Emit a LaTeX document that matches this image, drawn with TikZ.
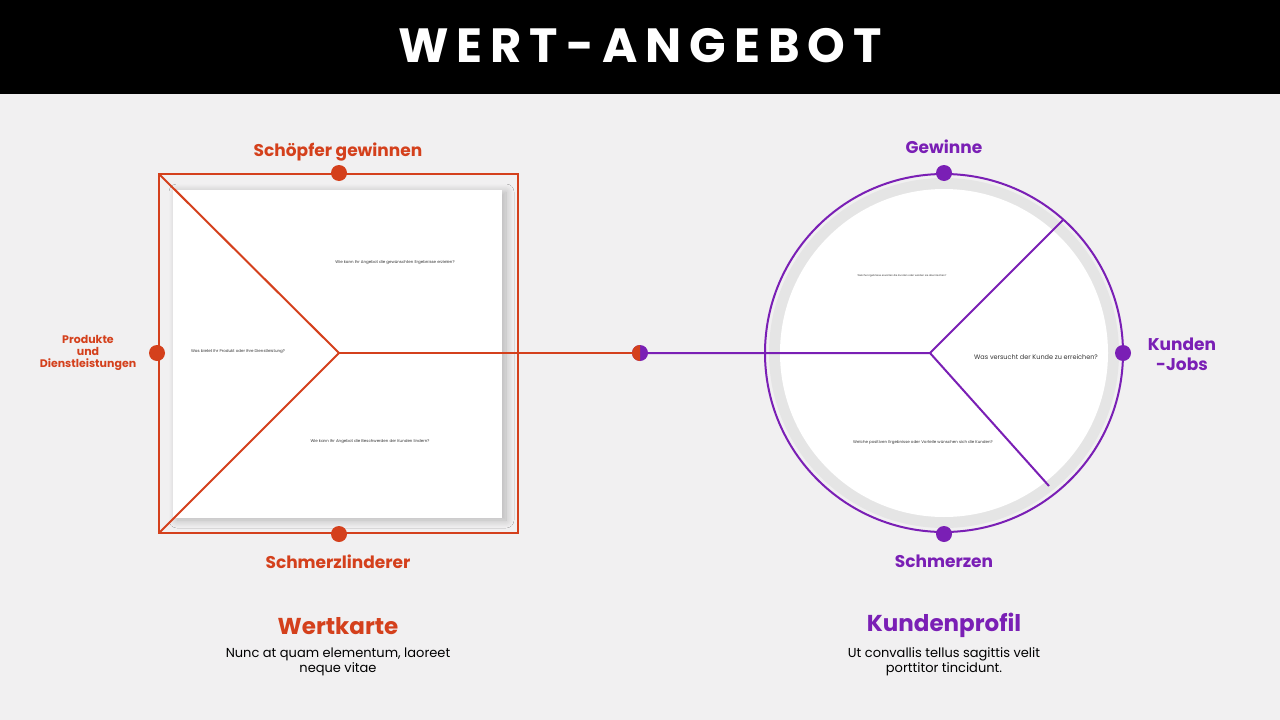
\documentclass[tikz,border=0pt]{standalone}
\usepackage{fontspec}
\setmainfont{Poppins}
\usetikzlibrary{shadows.blur}
\definecolor{org}{HTML}{D4401C}
\definecolor{pur}{HTML}{7A1FB5}
\definecolor{bg}{HTML}{F1F0F1}
\tikzset{x=1pt,y=-1pt,
 dot/.style={circle,inner sep=0pt,minimum size=16pt},
 tiny/.style={font=\fontsize{4}{5}\selectfont,text=black!80},
 lbl/.style={font=\fontsize{17}{20}\selectfont\bfseries}}
\begin{document}
\begin{tikzpicture}
\useasboundingbox (0,0) rectangle (1280,720);
\fill[bg] (0,0) rectangle (1280,720);
\fill[black] (0,0) rectangle (1280,94);
\node[text=white,font=\fontsize{48}{56}\selectfont\bfseries] (title) at (640,46) {W\,E\,R\,T\,-\,A\,N\,G\,E\,B\,O\,T};
% left
\fill[white,blur shadow={shadow blur steps=12,shadow blur radius=8pt,shadow xshift=4pt,shadow yshift=-2pt,shadow opacity=25}] (173,190) rectangle (502,518);
\draw[org,line width=2pt] (159,174) rectangle (518,533);
\coordinate (tl) at (159,174); \coordinate (bl) at (159,533);
\coordinate (c) at (339,353); \coordinate (m) at (640,353);
\draw[org,line width=2pt] (tl) -- (c) -- (bl); \draw[org,line width=2pt] (c) -- (m);
\node[dot,fill=org] (d1) at (339,173) {};
\node[dot,fill=org] (d2) at (157,353) {};
\node[dot,fill=org] (d3) at (339,534) {};
\node[tiny] (q1) at (395,263) {Wie kann Ihr Angebot die gewünschten Ergebnisse erzielen?};
\node[tiny] (q2) at (238,352) {Was bietet Ihr Produkt oder Ihre Dienstleistung?};
\node[tiny] (q3) at (370,442) {Wie kann Ihr Angebot die Beschwerden der Kunden lindern?};
\node[lbl,text=org] (l1) at (338,152) {Schöpfer gewinnen};
\node[lbl,text=org] (l3) at (338,562) {Schmerzlinderer};
\node[text=org,font=\fontsize{11}{12}\selectfont\bfseries,align=center] (l2) at (88,353) {Produkte\\und\\Dienstleistungen};
\node[text=org,font=\fontsize{23}{26}\selectfont\bfseries] (w) at (338,626) {Wertkarte};
\node[align=center,font=\fontsize{13}{15}\selectfont] (wt) at (338,662) {Nunc at quam elementum, laoreet\\neque vitae};
% right
\fill[black!10] (944,353) circle (175);
\fill[white] (944,353) circle (164);
\draw[pur,line width=2pt] (944,353) circle (179);
\coordinate (cc) at (930,353); \coordinate (u) at (1063,220); \coordinate (v) at (1049,486);
\draw[pur,line width=2pt] (m) -- (cc) -- (u); \draw[pur,line width=2pt] (cc) -- (v);
\node[dot,fill=pur] (e1) at (944,173) {};
\node[dot,fill=pur] (e2) at (1123,353) {};
\node[dot,fill=pur] (e3) at (944,534) {};
\node[dot,fill=pur] (mid) at (640,353) {};
\fill[org] (640,361) arc (90:270:8) -- cycle;
\node[tiny,font=\fontsize{2.5}{3}\selectfont] (p1) at (902,276) {Welche Ergebnisse erwarten die Kunden oder würden sie überraschen?};
\node[font=\fontsize{6.5}{8}\selectfont,text=black!80] (p2) at (1036,357) {Was versucht der Kunde zu erreichen?};
\node[tiny] (p3) at (923,443) {Welche positiven Ergebnisse oder Vorteile wünschen sich die Kunden?};
\node[lbl,text=pur] (k1) at (944,147) {Gewinne};
\node[lbl,text=pur] (k3) at (944,561) {Schmerzen};
\node[lbl,text=pur,align=center] (k2) at (1182,354) {Kunden\\-Jobs};
\node[text=pur,font=\fontsize{23}{26}\selectfont\bfseries] (kp) at (944,625) {Kundenprofil};
\node[align=center,font=\fontsize{13}{15}\selectfont] (kt) at (944,662) {Ut convallis tellus sagittis velit\\porttitor tincidunt.};
\end{tikzpicture}
\end{document}
